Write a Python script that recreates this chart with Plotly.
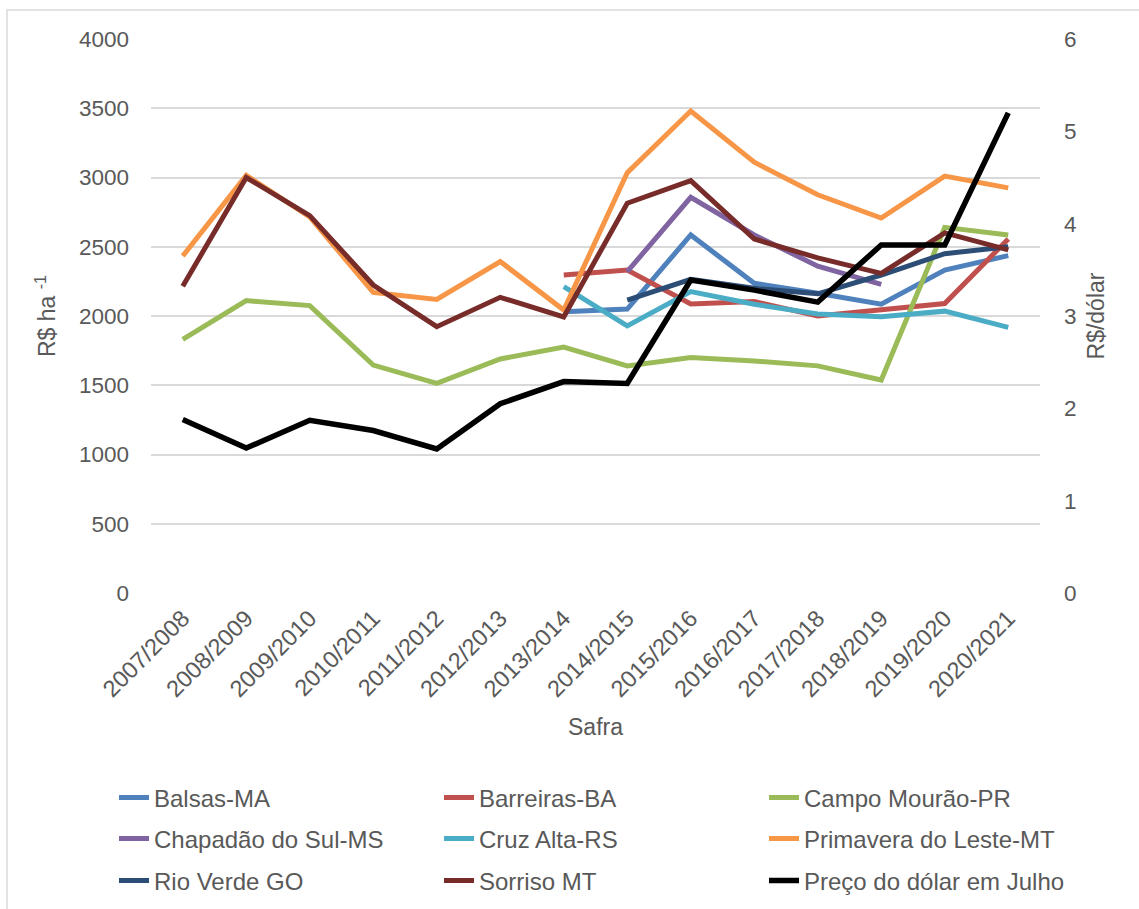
import plotly.graph_objects as go

safras = ["2007/2008", "2008/2009", "2009/2010", "2010/2011", "2011/2012", "2012/2013",
          "2013/2014", "2014/2015", "2015/2016", "2016/2017", "2017/2018", "2018/2019",
          "2019/2020", "2020/2021"]

N = None
balsas = [N, N, N, N, N, N, 2030, 2050, 2585, 2236, 2164, 2085, 2332, 2436]
barreiras = [N, N, N, N, N, N, 2296, 2332, 2087, 2105, 2000, 2043, 2090, 2556]
campo_mourao = [1832, 2111, 2075, 1646, 1514, 1690, 1776, 1639, 1700, 1675, 1640, 1538, 2640, 2585]
chapadao = [N, N, N, N, N, N, N, 2320, 2857, 2585, 2360, 2229, N, N]
cruz_alta = [N, N, N, N, N, N, 2212, 1928, 2176, 2085, 2014, 1995, 2035, 1918]
primavera = [2433, 3015, 2715, 2170, 2120, 2393, 2043, 3035, 3480, 3110, 2875, 2707, 3010, 2925]
rio_verde = [N, N, N, N, N, N, N, 2115, 2265, 2200, 2160, 2296, 2450, 2500]
sorriso = [2215, 3000, 2725, 2224, 1923, 2135, 1993, 2814, 2977, 2556, 2420, 2308, 2600, 2477]
dolar = [1.88, 1.57, 1.87, 1.76, 1.56, 2.05, 2.29, 2.27, 3.39, 3.28, 3.15, 3.77, 3.77, 5.20]

series = [
    ("Balsas-MA", balsas, "#4f81bd"),
    ("Barreiras-BA", barreiras, "#c0504d"),
    ("Campo Mourão-PR", campo_mourao, "#9bbb59"),
    ("Chapadão do Sul-MS", chapadao, "#8064a2"),
    ("Cruz Alta-RS", cruz_alta, "#4bacc6"),
    ("Primavera do Leste-MT", primavera, "#f79646"),
    ("Rio Verde GO", rio_verde, "#2c4d75"),
    ("Sorriso MT", sorriso, "#772c2a"),
]

FONT = "Liberation Sans, Arial, sans-serif"
GRAY = "#595959"
W, H = 1139, 909
L, R, T, B = 151, 1040, 39, 593
pw, ph = R - L, B - T

legend_names = ["legend", "legend2", "legend3"]

fig = go.Figure()
for i, (name, vals, col) in enumerate(series):
    fig.add_trace(go.Scatter(x=safras, y=vals, name=name, mode="lines",
                             line=dict(color=col, width=5),
                             legend=legend_names[i // 3]))
fig.add_trace(go.Scatter(x=safras, y=dolar, name="Preço do dólar em Julho", mode="lines",
                         line=dict(color="#000000", width=5.5), yaxis="y2",
                         legend="legend3"))

def px2x(px):
    return (px - L) / pw

def py2y(py):
    return (B - py) / ph

leg_common = dict(orientation="h", xanchor="left", yanchor="middle",
                  font=dict(family=FONT, size=24, color=GRAY),
                  entrywidth=280, entrywidthmode="pixels",
                  bgcolor="rgba(0,0,0,0)", traceorder="normal", itemwidth=30)

layout = dict(
    width=W, height=H,
    margin=dict(l=L, r=W - R, t=T, b=H - B, autoexpand=False),
    paper_bgcolor="white", plot_bgcolor="white",
    font=dict(family=FONT, size=22, color=GRAY),
    xaxis=dict(type="category", range=[-0.5, 13.5], tickangle=-45,
               showgrid=False, showline=False, ticks="", ticklabelstandoff=6,
               tickfont=dict(size=23.5, color=GRAY),
               title=dict(text="Safra", font=dict(size=23, color=GRAY), standoff=17),
               automargin=False),
    yaxis=dict(range=[0, 4000], dtick=500, showgrid=True, gridcolor="#d9d9d9", gridwidth=1.5,
               zeroline=False, showline=False, ticks="", ticklabelstandoff=21,
               tickfont=dict(size=22.5, color=GRAY),
               title=dict(text="R$ ha <sup>-1</sup>", font=dict(size=23, color=GRAY), standoff=16),
               automargin=False),
    yaxis2=dict(range=[0, 6], dtick=1, overlaying="y", side="right", showgrid=False,
                zeroline=False, showline=False, ticks="", ticklabelstandoff=23,
                tickfont=dict(size=22.5, color=GRAY),
                title=dict(text="R$/dólar", font=dict(size=23, color=GRAY), standoff=12),
                automargin=False),
    shapes=[dict(type="rect", xref="paper", yref="paper",
                 x0=px2x(7), x1=px2x(1150), y0=py2y(920), y1=py2y(10),
                 line=dict(color="#d9d9d9", width=1.5), fillcolor="rgba(0,0,0,0)", layer="below")],
)
rows_y = [798, 839, 881]
for nm, ry in zip(legend_names, rows_y):
    layout[nm] = dict(leg_common, x=px2x(114), y=py2y(ry))

fig.update_layout(**layout)
fig.write_html("out.html")
